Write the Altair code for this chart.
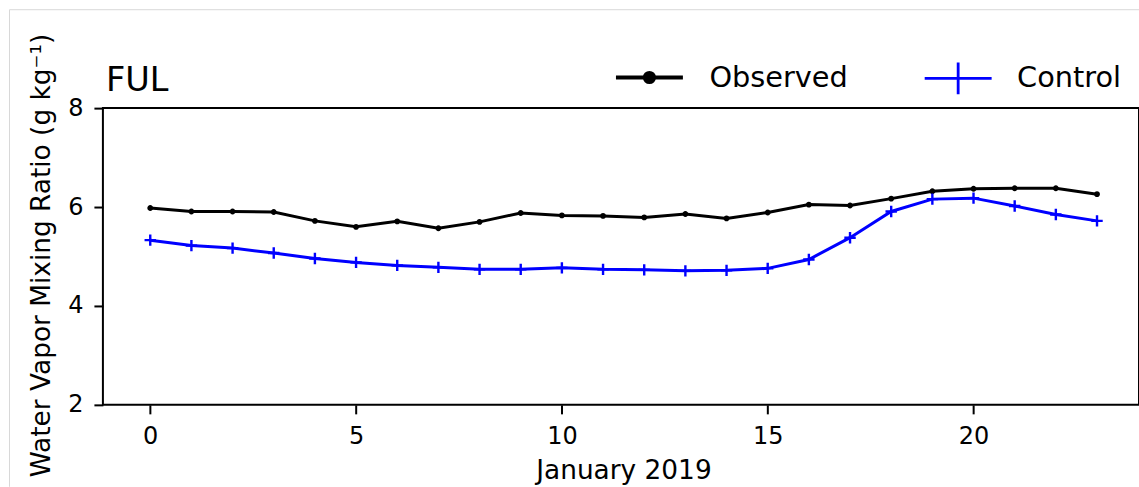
import altair as alt
import pandas as pd

hours = list(range(24))
observed = [5.98, 5.91, 5.91, 5.90, 5.72, 5.60, 5.71, 5.57, 5.70, 5.88, 5.83, 5.82,
            5.79, 5.86, 5.77, 5.89, 6.05, 6.03, 6.17, 6.32, 6.37, 6.38, 6.38, 6.26]
control = [5.33, 5.22, 5.17, 5.07, 4.96, 4.88, 4.82, 4.78, 4.74, 4.74, 4.77, 4.74,
           4.73, 4.71, 4.72, 4.76, 4.94, 5.38, 5.91, 6.16, 6.18, 6.02, 5.85, 5.72]
series_names = ["Observed", "Control"]
series_colors = ["black", "blue"]
x_ticks = [0, 5, 10, 15, 20]
y_ticks = [2, 4, 6, 8]

df = pd.concat([
    pd.DataFrame({"hour": hours, "value": observed, "series": "Observed"}),
    pd.DataFrame({"hour": hours, "value": control, "series": "Control"}),
])
df["marker"] = df["series"]

FONT = "DejaVu Sans"
PLUS = "M-1,0L1,0M0,-1L0,1"
OBS_LEG = ("M0,-0.473L0,-0.473M0,0.473L0,0.473"
           "M-1,0L1,0M-0.134,0A0.134,0.134,0,1,1,0.134,0A0.134,0.134,0,1,1,-0.134,0Z")
CTL_LEG = "M-1,0L1,0M0,-0.473L0,0.473"

legend = alt.Legend(
    title=None, orient="none", direction="horizontal",
    legendX=511, legendY=-67,
    symbolSize=4489, labelFontSize=28.8, labelFont=FONT, labelColor="black",
    labelOffset=24, columnPadding=70, padding=0,
    symbolType={"expr": f"datum.value === 'Observed' ? '{OBS_LEG}' : '{CTL_LEG}'"},
    symbolFillColor={"expr": "datum.value === 'Observed' ? 'black' : 'transparent'"},
    symbolStrokeWidth={"expr": "datum.value === 'Observed' ? 3.8 : 2.6"},
    symbolOpacity=1,
)

x_enc = alt.X("hour:Q", scale=alt.Scale(domain=[-1.15, 24.02], nice=False, zero=False),
              axis=alt.Axis(values=x_ticks, title="January 2019", titleX=521, titleY=74,
                            titleBaseline="alphabetic", titleAlign="center",
                            labelPadding=11))
y_enc = alt.Y("value:Q", scale=alt.Scale(domain=[2, 8], nice=False, zero=False),
              axis=alt.Axis(values=y_ticks, title="Water Vapor Mixing Ratio (g kg⁻¹)",
                            titleX=-53, titleY=147, titleAngle=-90,
                            titleBaseline="alphabetic", titleAlign="center",
                            labelPadding=11, labelBaseline="middle"))

base = alt.Chart(df)

lines = base.mark_line(strokeWidth=3).encode(
    x=x_enc, y=y_enc,
    color=alt.Color("series:N", scale=alt.Scale(domain=series_names, range=series_colors),
                    legend=legend, sort=series_names),
    strokeWidth=alt.StrokeWidth("marker:N", scale=alt.Scale(domain=series_names, range=[4.2, 2.8]), legend=None),
)

points = base.mark_point(opacity=1, strokeWidth=2.4).encode(
    x=x_enc, y=y_enc,
    stroke=alt.Stroke("marker:N", scale=alt.Scale(domain=series_names, range=series_colors), legend=None),
    fill=alt.Fill("marker:N", scale=alt.Scale(domain=series_names, range=["black", "transparent"]), legend=None),
    shape=alt.Shape("marker:N", scale=alt.Scale(domain=series_names, range=["circle", PLUS]), legend=None),
    size=alt.Size("marker:N", scale=alt.Scale(domain=series_names, range=[12, 130]), legend=None),
)

frame_v = alt.Chart(pd.DataFrame({"k": [0]})).mark_rule(color="#d8d8d8", strokeWidth=1).encode(
    x=alt.value(-93.5), y=alt.value(-98.5), y2=alt.value(379))
frame_h = alt.Chart(pd.DataFrame({"k": [0]})).mark_rule(color="#d8d8d8", strokeWidth=1).encode(
    x=alt.value(-93.5), x2=alt.value(1040), y=alt.value(-98.5))

chart = alt.layer(lines, points, frame_v, frame_h).resolve_scale(
    color="independent", stroke="independent", fill="independent", shape="independent",
    size="independent", strokeWidth="independent",
).properties(
    width=1037, height=297,
    title=alt.TitleParams("FUL", anchor="start", fontSize=33.6, font=FONT, fontWeight="normal",
                          color="black", offset=16, dy=131, dx=3, baseline="alphabetic", frame="group"),
    autosize=alt.AutoSizeParams(type="none"),
    padding={"left": 103, "top": 108, "right": 0, "bottom": 82},
    background="white",
).configure_view(stroke="black", strokeWidth=2).configure_axis(
    grid=False, domain=False, ticks=True, tickSize=9, tickWidth=2, tickColor="black",
    labelFont=FONT, labelFontSize=24, labelColor="black",
    titleFont=FONT, titleFontSize=26.4, titleColor="black", titleFontWeight="normal",
)

chart.save("out.html", embed_options={"renderer": "svg", "actions": False})
